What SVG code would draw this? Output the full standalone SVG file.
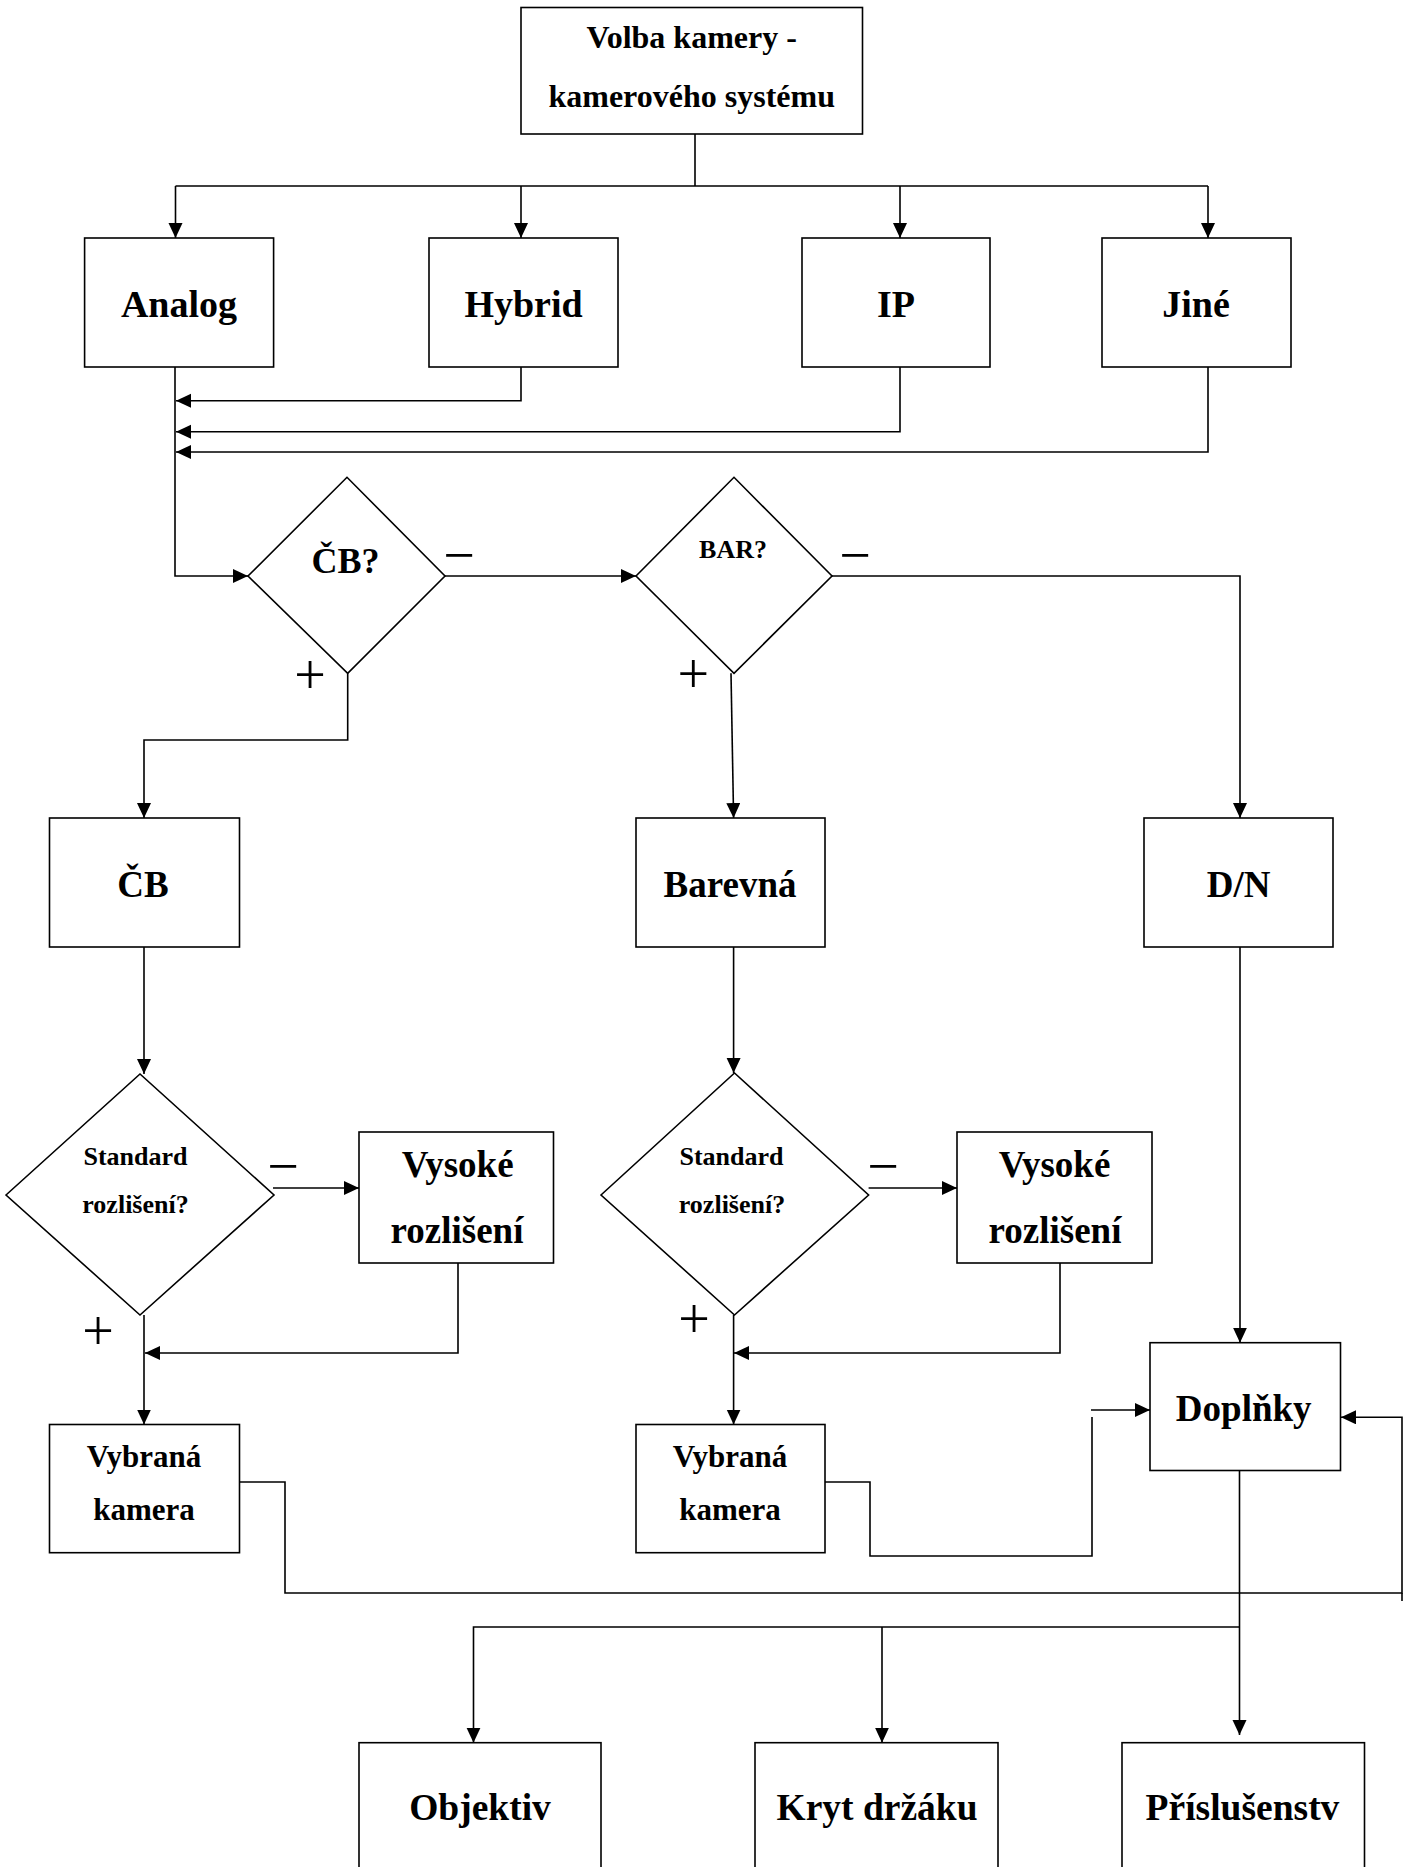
<svg xmlns="http://www.w3.org/2000/svg" width="1410" height="1867" viewBox="0 0 1410 1867">
<style>
.box{fill:#fff;stroke:#000;stroke-width:1.6}
.ln{fill:none;stroke:#000;stroke-width:1.6}
.arr{marker-end:url(#ah)}
.t{font-family:"Liberation Serif","Times New Roman",serif;font-weight:bold;text-anchor:middle;fill:#000}
.sg{font-family:"Liberation Serif","Times New Roman",serif;font-weight:normal;font-size:56px;text-anchor:middle;fill:#000}
</style>
<defs>
<marker id="ah" markerUnits="userSpaceOnUse" markerWidth="16" markerHeight="15" refX="15" refY="7" orient="auto" viewBox="0 0 16 15">
<path d="M0,0 L15,7 L0,14 Z" fill="#000"/>
</marker>
</defs>
<rect width="1410" height="1867" fill="#fff"/>

<g id="connectors">
<path class="ln" d="M695,134 V186 M175.5,186 H1208"/>
<path class="ln arr" d="M175.5,186 V238"/>
<path class="ln arr" d="M521,186 V238"/>
<path class="ln arr" d="M900,186 V238"/>
<path class="ln arr" d="M1208,186 V238"/>
<path class="ln arr" d="M521,367 V400.7 H176"/>
<path class="ln arr" d="M900,367 V431.7 H176"/>
<path class="ln arr" d="M1208,367 V452 H176"/>
<path class="ln arr" d="M175,367 V576 H248"/>
<path class="ln arr" d="M445,576 H636"/>
<path class="ln arr" d="M832,576 H1240 V818"/>
<path class="ln arr" d="M347.7,673.3 V740 H144 V818"/>
<path class="ln arr" d="M731,673.3 L733.6,818"/>
<path class="ln arr" d="M144,947 V1074"/>
<path class="ln arr" d="M733.6,947 V1073"/>
<path class="ln arr" d="M1240,942 V1342.7"/>
<path class="ln arr" d="M273,1188 H359"/>
<path class="ln arr" d="M868.6,1188 H957"/>
<path class="ln arr" d="M458,1263 V1353 H145"/>
<path class="ln arr" d="M1060,1263 V1353 H734"/>
<path class="ln arr" d="M144,1315 V1424.5"/>
<path class="ln arr" d="M733.6,1315 V1424.5"/>
<path class="ln arr" d="M239.4,1482 H285 V1593 H1402 V1417.3 H1341"/>
<path class="ln" d="M1402,1593 V1601"/>
<path class="ln" d="M825,1482 H870 V1556 H1092 V1417"/>
<path class="ln arr" d="M1091,1410 H1150"/>
<path class="ln arr" d="M1239.5,1470.5 V1735"/>
<path class="ln arr" d="M1239.5,1627 H473.5 V1742.7"/>
<path class="ln arr" d="M882,1627 V1742.7"/>
</g>

<g id="n-volba">
<rect class="box" x="521" y="7.5" width="341.5" height="126.5"/>
<text class="t" x="691.7" y="48.3" font-size="32">Volba kamery -</text>
<text class="t" x="691.7" y="106.7" font-size="32">kamerového systému</text>
</g>
<g id="n-analog">
<rect class="box" x="84.6" y="238" width="189" height="129"/>
<text class="t" x="179" y="317" font-size="38">Analog</text>
</g>
<g id="n-hybrid">
<rect class="box" x="429" y="238" width="189" height="129"/>
<text class="t" x="523.5" y="317" font-size="38">Hybrid</text>
</g>
<g id="n-ip">
<rect class="box" x="802" y="238" width="188" height="129"/>
<text class="t" x="896" y="317" font-size="38">IP</text>
</g>
<g id="n-jine">
<rect class="box" x="1102" y="238" width="189" height="129"/>
<text class="t" x="1196" y="317" font-size="38">Jiné</text>
</g>

<g id="d-cb">
<polygon class="box" points="248,576 347,477.3 445,576 347.7,673.3"/>
<text class="t" x="345.5" y="572.7" font-size="36">ČB?</text>
<text class="sg" x="459" y="574">−</text>
<text class="sg" x="310" y="693.5">+</text>
</g>
<g id="d-bar">
<polygon class="box" points="636,576 734,477.3 832,576 734,673.3"/>
<text class="t" x="733" y="558" font-size="26">BAR?</text>
<text class="sg" x="855" y="574">−</text>
<text class="sg" x="693.3" y="693.3">+</text>
</g>

<g id="n-cb">
<rect class="box" x="49.5" y="818" width="190" height="129"/>
<text class="t" x="143" y="896.7" font-size="37">ČB</text>
</g>
<g id="n-barevna">
<rect class="box" x="636" y="818" width="189" height="129"/>
<text class="t" x="730" y="896.7" font-size="37">Barevná</text>
</g>
<g id="n-dn">
<rect class="box" x="1144" y="818" width="189" height="129"/>
<text class="t" x="1238.6" y="896.7" font-size="37">D/N</text>
</g>

<g id="d-std1">
<polygon class="box" points="6,1195 140,1074 274,1195 140,1315"/>
<text class="t" x="135.5" y="1165" font-size="26">Standard</text>
<text class="t" x="135.5" y="1212.7" font-size="26">rozlišení?</text>
<text class="sg" x="283" y="1185">−</text>
<text class="sg" x="98" y="1350">+</text>
</g>
<g id="d-std2">
<polygon class="box" points="601,1195 734.5,1073 868.6,1195 734.5,1315"/>
<text class="t" x="731.5" y="1165" font-size="26">Standard</text>
<text class="t" x="732" y="1212.7" font-size="26">rozlišení?</text>
<text class="sg" x="883" y="1185">−</text>
<text class="sg" x="694" y="1338">+</text>
</g>

<g id="n-vysoke1">
<rect class="box" x="359" y="1132" width="194.5" height="131"/>
<text class="t" x="457.7" y="1177" font-size="37">Vysoké</text>
<text class="t" x="457" y="1243" font-size="37">rozlišení</text>
</g>
<g id="n-vysoke2">
<rect class="box" x="957" y="1132" width="195" height="131"/>
<text class="t" x="1054.5" y="1177" font-size="37">Vysoké</text>
<text class="t" x="1055" y="1243" font-size="37">rozlišení</text>
</g>

<g id="n-vybrana1">
<rect class="box" x="49.5" y="1424.5" width="190" height="128.2"/>
<text class="t" x="144" y="1466.7" font-size="31">Vybraná</text>
<text class="t" x="144" y="1520" font-size="31">kamera</text>
</g>
<g id="n-vybrana2">
<rect class="box" x="636" y="1424.5" width="189" height="128.2"/>
<text class="t" x="730" y="1466.7" font-size="31">Vybraná</text>
<text class="t" x="730" y="1520" font-size="31">kamera</text>
</g>

<g id="n-doplnky">
<rect class="box" x="1150" y="1342.7" width="190.5" height="127.8"/>
<text class="t" x="1243.7" y="1420.7" font-size="37">Doplňky</text>
</g>

<g id="n-objektiv">
<rect class="box" x="359" y="1742.7" width="242" height="160"/>
<text class="t" x="480" y="1820" font-size="37.5">Objektiv</text>
</g>
<g id="n-kryt">
<rect class="box" x="755" y="1742.7" width="243" height="160"/>
<text class="t" x="877" y="1820" font-size="37.5">Kryt držáku</text>
</g>
<g id="n-prislusenstv">
<rect class="box" x="1122" y="1742.7" width="242.5" height="160"/>
<text class="t" x="1242.5" y="1820" font-size="37.5">Příslušenstv</text>
</g>
</svg>
